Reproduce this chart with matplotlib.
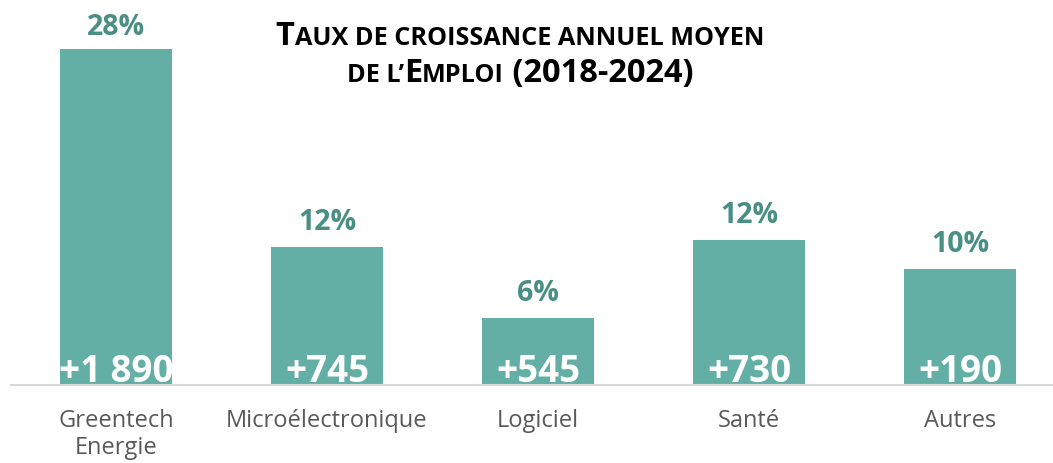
import matplotlib
matplotlib.use("Agg")
import matplotlib.pyplot as plt

categories = ["Greentech\nEnergie", "Microélectronique", "Logiciel", "Santé", "Autres"]
growth = [28.0, 11.5, 5.6, 12.1, 9.7]
growth_labels = ["28%", "12%", "6%", "12%", "10%"]
jobs_labels = ["+1 890", "+745", "+545", "+730", "+190"]

BAR = "#64AFA5"
LBL = "#4A8F84"
FONT = "Open Sans"

W, H = 1053, 463
fig = plt.figure(figsize=(W / 100, H / 100), dpi=100)
ax = fig.add_axes([10.5 / W, (H - 385) / H, 1055 / W, 385 / H])
x = list(range(len(categories)))
ax.bar(x, growth, width=112 / 211, color=BAR, zorder=2)
ax.set_xlim(-0.5, 4.5)
ax.set_ylim(0, 385 / 12.0)
for s in ["top", "right", "left"]:
    ax.spines[s].set_visible(False)
ax.spines["bottom"].set_color("#D9D9D9")
ax.spines["bottom"].set_linewidth(1.5)
ax.set_yticks([])
ax.set_xticks(x)
ax.set_xticklabels(categories, fontsize=17, color="#595959", family=FONT, linespacing=1.2)
ax.tick_params(axis="x", length=0, pad=17)

ymax = ax.get_ylim()[1]
for xi, v, gl, jl in zip(x, growth, growth_labels, jobs_labels):
    off = 12 if v < 0.8 * ymax else 10
    ax.annotate(gl, (xi, v), xytext=(0, off), textcoords="offset points", ha="center", va="baseline",
                fontsize=20.5, fontweight="bold", color=LBL, family=FONT)
    ax.annotate(jl, (xi, 0), xytext=(0, 2), textcoords="offset points", ha="center", va="baseline",
                fontsize=26.5, fontweight="bold", color="white", family=FONT, zorder=3)

# Title in small caps, built from pieces
renderer = fig.canvas.get_renderer()
BIG, SMALL = 23.5, 18.2

def small_caps_line(pieces, cx, y):
    texts = []
    for s, size in pieces:
        t = fig.text(0, y, s, fontsize=size, fontweight="bold", family=FONT, color="black",
                     ha="left", va="baseline", transform=None)
        texts.append(t)
    widths = [t.get_window_extent(renderer).width for t in texts]
    total = sum(widths)
    xpos = cx - total / 2
    for t, w in zip(texts, widths):
        t.set_x(xpos)
        xpos += w

small_caps_line([("T", BIG), ("AUX DE CROISSANCE ANNUEL MOYEN", SMALL)], 520, H - 45)
small_caps_line([("DE L\u2019", SMALL), ("E", BIG), ("MPLOI", SMALL), (" (2018-2024)", BIG)], 520, H - 82)

fig.savefig("out.png", dpi=100)
